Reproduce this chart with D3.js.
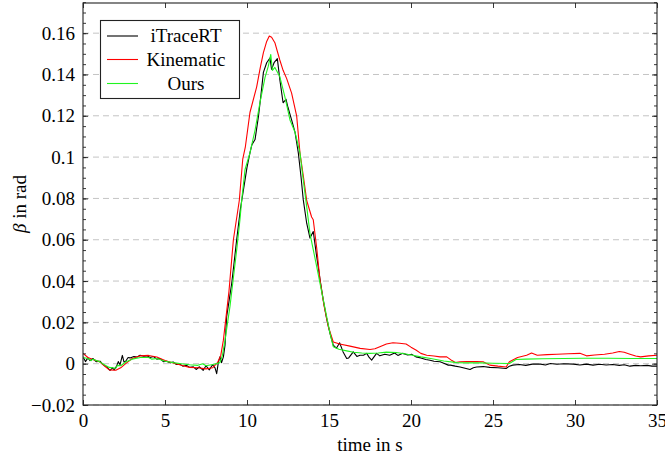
<!DOCTYPE html>
<html>
<head>
<meta charset="utf-8">
<script src="https://cdn.jsdelivr.net/npm/d3@7"></script>
<style>
  html, body { margin: 0; padding: 0; background: #fff; }
  svg { display: block; }
  text { font-family: "Liberation Serif", "DejaVu Serif", serif; fill: #000; }
</style>
</head>
<body>
<svg id="chart" width="665" height="461"></svg>
<script>
// ---- data (time in s, beta in rad) ----
const seriesNames = ["iTraceRT", "Kinematic", "Ours"];
const seriesColors = ["#000000", "#ff0000", "#1ff51f"];

const xTicks = [0, 5, 10, 15, 20, 25, 30, 35];
const yTicks = [-0.02, 0, 0.02, 0.04, 0.06, 0.08, 0.1, 0.12, 0.14, 0.16];

const itraceRT = [[0,0.0033],[0.15,0.001],[0.3,0.0028],[0.43,0.0015],[0.6,0.0025],[0.8,0.001],[1.04,0.0012],[1.2,-0.0003],[1.44,-0.0016],[1.65,-0.0032],[1.8,-0.002],[1.9,-0.003],[2.05,-0.0012],[2.15,0.001],[2.26,-0.0005],[2.4,0.004],[2.5,0.0008],[2.6,0.0012],[2.75,0.003],[2.87,0.0028],[3.1,0.0035],[3.3,0.0032],[3.48,0.0041],[3.7,0.0036],[3.9,0.0038],[4.09,0.003],[4.3,0.0035],[4.5,0.0022],[4.7,0.0025],[4.9,0.001],[5.1,0.0012],[5.3,0.0004],[5.5,0.0008],[5.7,-0.0004],[5.9,-0.0002],[6.1,-0.0012],[6.3,-0.0008],[6.5,-0.0018],[6.73,-0.0015],[6.9,-0.0028],[7.1,-0.0015],[7.33,-0.0032],[7.5,-0.001],[7.7,-0.003],[7.9,-0.0005],[8.05,-0.002],[8.15,-0.0048],[8.25,0.0005],[8.35,0.0033],[8.45,0.0005],[8.56,0.0033],[8.66,0.009],[8.76,0.0227],[9.07,0.039],[9.2,0.048],[9.37,0.060],[9.6,0.075],[9.88,0.089],[10.0,0.095],[10.18,0.102],[10.3,0.106],[10.49,0.1085],[10.7,0.1198],[10.85,0.130],[11.0,0.141],[11.2,0.1457],[11.4,0.148],[11.5,0.1425],[11.65,0.1457],[11.85,0.1477],[12.0,0.1376],[12.2,0.1263],[12.38,0.128],[12.5,0.124],[12.72,0.118],[12.93,0.112],[13.13,0.102],[13.3,0.090],[13.43,0.0794],[13.64,0.068],[13.84,0.0608],[14.04,0.064],[14.25,0.0518],[14.45,0.041],[14.65,0.0308],[14.85,0.022],[15.06,0.0147],[15.26,0.009],[15.45,0.0075],[15.65,0.0101],[15.86,0.0057],[16.08,0.0025],[16.2,0.0028],[16.48,0.0057],[16.7,0.0035],[16.89,0.0041],[17.1,0.0041],[17.3,0.005],[17.45,0.003],[17.6,0.0017],[17.9,0.005],[18.1,0.0038],[18.4,0.0046],[18.7,0.0041],[19.0,0.0052],[19.2,0.004],[19.5,0.005],[19.8,0.0042],[20.05,0.0045],[20.3,0.0033],[20.6,0.0028],[20.9,0.002],[21.16,0.0017],[21.4,0.0012],[21.77,0.0009],[22.0,0.0002],[22.27,-0.0007],[22.4,-0.0007],[22.7,-0.0012],[22.99,-0.0016],[23.3,-0.0022],[23.6,-0.0028],[23.8,-0.002],[24.0,-0.0016],[24.4,-0.0014],[24.8,-0.0018],[25.3,-0.002],[25.8,-0.0023],[26.0,-0.0012],[26.2,-0.0007],[26.6,-0.0004],[27.0,-0.0008],[27.4,-0.0002],[27.9,-0.0002],[28.2,-0.0006],[28.5,0.0001],[28.9,-0.0003],[29.3,0.0],[29.9,-0.0002],[30.3,-0.0006],[30.7,-0.0002],[31.1,-0.0007],[31.5,-0.0003],[31.9,-0.0006],[32.3,-0.0004],[32.7,-0.0008],[33.0,-0.0005],[33.35,-0.0012],[33.7,-0.0008],[34.0,-0.001],[34.4,-0.0008],[34.7,-0.0012],[35,-0.0012]];

const kinematic = [[0,0.005],[0.3,0.003],[0.6,0.002],[1.0,0.001],[1.3,-0.001],[1.6,-0.003],[2.0,-0.0032],[2.3,-0.002],[2.6,0.000],[3.0,0.0025],[3.5,0.0038],[4.0,0.004],[4.5,0.0032],[5.0,0.0015],[5.5,0.0003],[6.0,-0.0008],[6.5,-0.0018],[7.0,-0.002],[7.5,-0.0025],[7.9,-0.002],[8.2,0.0005],[8.4,0.004],[8.56,0.0114],[8.9,0.035],[9.17,0.060],[9.53,0.079],[9.74,0.099],[9.9,0.105],[10.18,0.1216],[10.59,0.134],[10.8,0.143],[11.0,0.1506],[11.2,0.156],[11.36,0.1586],[11.5,0.158],[11.7,0.1554],[12.0,0.147],[12.2,0.142],[12.42,0.138],[12.72,0.131],[13.03,0.1198],[13.23,0.102],[13.45,0.090],[13.64,0.079],[13.94,0.071],[14.04,0.0697],[14.25,0.056],[14.45,0.0405],[14.7,0.028],[14.96,0.0179],[15.26,0.0105],[15.65,0.0095],[16.28,0.0085],[16.9,0.0074],[17.5,0.0069],[17.8,0.0072],[18.1,0.0082],[18.5,0.0095],[18.9,0.0101],[19.3,0.0099],[19.7,0.0095],[20.0,0.008],[20.3,0.0066],[20.6,0.005],[20.96,0.0041],[21.4,0.0037],[21.77,0.0033],[22.18,0.0033],[22.5,0.0015],[22.7,0.0006],[22.99,0.0009],[23.4,0.001],[24.0,0.001],[24.4,0.0009],[24.8,-0.0007],[25.3,-0.0012],[25.8,-0.0016],[26.0,0.0009],[26.5,0.003],[27.05,0.0041],[27.35,0.0052],[27.7,0.0041],[28.3,0.0044],[28.9,0.0046],[29.6,0.0048],[30.3,0.005],[30.7,0.0038],[31.2,0.0042],[31.8,0.0046],[32.3,0.0052],[32.7,0.0059],[33.0,0.0055],[33.35,0.0046],[33.7,0.0037],[34.0,0.0033],[34.5,0.0038],[35,0.0041]];

const ours = [[0,0.003],[0.3,0.0025],[0.5,0.0015],[0.6,0.0022],[1.0,0.001],[1.3,-0.0005],[1.6,-0.0018],[2.0,-0.0022],[2.1,-0.0008],[2.3,-0.001],[2.6,0.0008],[3.0,0.0022],[3.5,0.003],[4.0,0.003],[4.2,0.0022],[4.5,0.0025],[5.0,0.0012],[5.5,0.0005],[6.0,0.0],[6.5,-0.0005],[7.0,-0.0008],[7.3,0.0],[7.5,-0.001],[8.0,-0.0003],[8.35,0.0005],[8.5,0.004],[8.66,0.0114],[8.96,0.0276],[9.37,0.055],[9.57,0.0697],[9.68,0.0794],[9.88,0.094],[10.18,0.102],[10.49,0.113],[10.79,0.1264],[11.1,0.1386],[11.3,0.144],[11.45,0.1497],[11.55,0.142],[11.7,0.1434],[12.0,0.139],[12.3,0.1295],[12.62,0.118],[12.93,0.112],[13.23,0.102],[13.43,0.089],[13.64,0.076],[13.84,0.063],[14.25,0.047],[14.65,0.031],[15.06,0.0148],[15.26,0.0082],[15.6,0.007],[16.08,0.0062],[16.5,0.0055],[17.0,0.0052],[17.5,0.005],[18.0,0.0052],[18.5,0.0056],[19.1,0.0054],[19.6,0.0048],[20.1,0.0041],[20.6,0.0033],[21.2,0.0025],[22.0,0.0013],[22.8,0.0005],[23.5,0.0004],[24.2,0.0004],[25.0,0.0002],[26.0,0.0001],[26.4,0.002],[27,0.0022],[28,0.0024],[29.3,0.0025],[30.5,0.0026],[32,0.0026],[33.5,0.0025],[35,0.0025]];

const allSeries = [itraceRT, kinematic, ours];

// ---- layout ----
const W = 665, H = 461;
const margin = { left: 83, right: 8, top: 3, bottom: 56 };
const pw = W - margin.left - margin.right;
const ph = H - margin.top - margin.bottom;

const svg = d3.select("#chart");
const g = svg.append("g").attr("transform", `translate(${margin.left},${margin.top})`);

const x = d3.scaleLinear().domain([0, 35]).range([0, pw]);
const y = d3.scaleLinear().domain([-0.02, 0.1746]).range([ph, 0]);

const fmt = d => {
  if (Math.abs(d) < 1e-9) return "0";
  const s = String(+Math.abs(d).toFixed(2));
  return (d < 0 ? "\u2212" : "") + s;
};

// grid
g.append("g").selectAll("line").data(yTicks).join("line")
  .attr("x1", 0).attr("x2", pw)
  .attr("y1", d => y(d)).attr("y2", d => y(d))
  .attr("stroke", "#c4c4c4").attr("stroke-width", 1)
  .attr("stroke-dasharray", "6,4");

// clip
svg.append("defs").append("clipPath").attr("id", "clip")
  .append("rect").attr("width", pw).attr("height", ph);

const line = d3.line().x(d => x(d[0])).y(d => y(d[1]));
const lines = g.append("g").attr("clip-path", "url(#clip)");
allSeries.forEach((s, i) => {
  lines.append("path").datum(s)
    .attr("d", line)
    .attr("fill", "none")
    .attr("stroke", seriesColors[i])
    .attr("stroke-width", 1.1)
    .attr("stroke-linejoin", "round");
});

// axes (ticks inward on all sides)
const minorY = d3.range(-0.02, 0.1751, 0.005).map(v => +v.toFixed(3));
const axB = d3.axisBottom(x).tickValues(xTicks).tickSizeInner(-5).tickSizeOuter(0).tickPadding(9).tickFormat(d3.format("d"));
const axT = d3.axisTop(x).tickValues(xTicks).tickSizeInner(-5).tickSizeOuter(0).tickFormat("");
const axL = d3.axisLeft(y).tickValues(yTicks).tickSizeInner(-5).tickSizeOuter(0).tickPadding(8).tickFormat(fmt);
const axR = d3.axisRight(y).tickValues(yTicks).tickSizeInner(-5).tickSizeOuter(0).tickFormat("");
const axLm = d3.axisLeft(y).tickValues(minorY).tickSizeInner(-3).tickSizeOuter(0).tickFormat("");
const axRm = d3.axisRight(y).tickValues(minorY).tickSizeInner(-3).tickSizeOuter(0).tickFormat("");

function style(sel) {
  sel.select(".domain").remove();
  sel.selectAll("line").attr("stroke", "#222").attr("stroke-width", 0.9);
  sel.selectAll("text").attr("font-family", '"Liberation Serif", serif').attr("font-size", 19).attr("fill", "#000");
}
g.append("g").attr("transform", `translate(0,${ph})`).call(axB).call(style);
g.append("g").call(axT).call(style);
g.append("g").call(axL).call(style);
g.append("g").attr("transform", `translate(${pw},0)`).call(axR).call(style);
g.append("g").call(axLm).call(style);
g.append("g").attr("transform", `translate(${pw},0)`).call(axRm).call(style);

// frame
g.append("rect").attr("width", pw).attr("height", ph)
  .attr("fill", "none").attr("stroke", "#222").attr("stroke-width", 1.1);

// axis labels
svg.append("text").attr("x", margin.left + pw / 2).attr("y", 451)
  .attr("text-anchor", "middle").attr("font-size", 19).text("time in s");
svg.append("text")
  .attr("transform", `translate(26,${margin.top + ph / 2}) rotate(-90)`)
  .attr("text-anchor", "middle").attr("font-size", 19)
  .html('<tspan font-style="italic">β</tspan> in rad');

// legend
const lg = svg.append("g");
lg.append("rect").attr("x", 100.5).attr("y", 20.5).attr("width", 139).attr("height", 78)
  .attr("fill", "#fff").attr("stroke", "#222").attr("stroke-width", 1.1);
const legY = [36, 59.5, 83.5];
seriesNames.forEach((n, i) => {
  lg.append("line").attr("x1", 107).attr("x2", 138)
    .attr("y1", legY[i]).attr("y2", legY[i])
    .attr("stroke", seriesColors[i]).attr("stroke-width", 1.1);
  lg.append("text").attr("x", 186).attr("y", legY[i]).attr("dy", "0.33em")
    .attr("text-anchor", "middle").attr("font-size", 19).text(n);
});
</script>
</body>
</html>
